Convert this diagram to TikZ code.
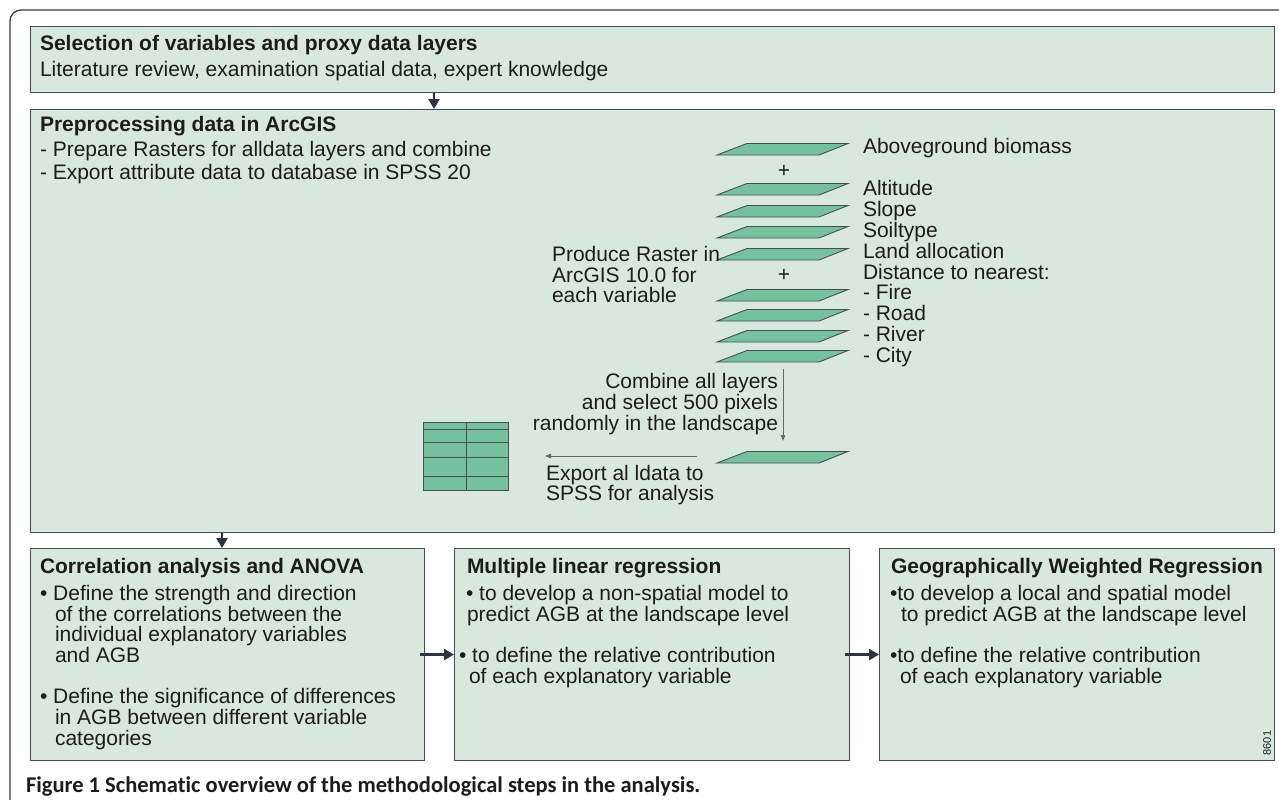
\documentclass[tikz,border=0pt]{standalone}
\usepackage{fontspec}
\setmainfont{Liberation Sans}
\newfontfamily\capfont[Ligatures=NoCommon]{Carlito}
\usetikzlibrary{arrows.meta,calc}
\definecolor{boxfill}{HTML}{D8E8DF}
\definecolor{boxline}{HTML}{474D55}
\definecolor{layerfill}{HTML}{76C2A0}
\definecolor{txt}{HTML}{1C1C1C}
\definecolor{arr}{HTML}{2D3340}
\definecolor{framecol}{HTML}{3C3C3C}
\newcommand\layerat[2]{%
  \draw[layer] (717,#2) -- (819,#2) -- (848,#2-11.5) -- (747,#2-11.5) -- cycle;
  \coordinate (#1) at (783,#2-6);}
\begin{document}
\begin{tikzpicture}[x=1pt,y=-1pt,
  stagebox/.style={draw=boxline, fill=boxfill, line width=1.1pt, inner sep=0pt, anchor=north west},
  layer/.style={draw=boxline, fill=layerfill, line width=0.9pt},
  lbl/.style={anchor=base west, inner sep=0pt, outer sep=0pt, text=txt, font=\fontsize{21}{25}\selectfont},
  lblr/.style={lbl, anchor=base east},
  ttl/.style={lbl, font=\fontsize{21}{25}\selectfont\bfseries},
  bigarrow/.style={draw=arr, line width=2.6pt, -{Triangle[length=10pt,width=11pt]}},
  thinarrow/.style={draw=boxline!85, line width=0.9pt, -{Triangle[length=6pt,width=4.5pt]}},
]
\useasboundingbox (0,0) rectangle (1279,800);
\fill[white] (0,0) rectangle (1279,800);
% outer frame
\draw[framecol, line width=1.3pt, rounded corners=11pt] (10,805) -- (10,10) -- (1285,10);

% stage boxes
\node[stagebox, minimum width=1244pt, minimum height=66pt] (sel) at (30,26) {};
\node[stagebox, minimum width=1244pt, minimum height=423pt] (prep) at (30,109) {};
\node[stagebox, minimum width=394pt, minimum height=212pt] (boxA) at (30,548) {};
\node[stagebox, minimum width=395pt, minimum height=212pt] (boxB) at (454,548) {};
\node[stagebox, minimum width=395pt, minimum height=212pt] (boxC) at (879,548) {};

% connectors between stages
\coordinate (c1) at (434,0);
\coordinate (c2) at (222,0);
\draw[bigarrow] (sel.south -| c1) -- (prep.north -| c1);
\draw[bigarrow] (prep.south -| c2) -- (boxA.north -| c2);
\draw[bigarrow] ([xshift=-5pt]boxA.east) -- (boxB.west);
\draw[bigarrow] ([xshift=-5pt]boxB.east) -- (boxC.west);

% top box text
\node[ttl] (t1) at (40,51) {Selection of variables and proxy data layers};
\node[lbl] (t2) at (40,76) {Literature review, examination spatial data, expert knowledge};

% preprocessing text
\node[ttl] (p0) at (40,131) {Preprocessing data in ArcGIS};
\node[lbl] (p1) at (40,156) {- Prepare Rasters for alldata layers and combine};
\node[lbl] (p2) at (40,179) {- Export attribute data to database in SPSS 20};

% layers
\layerat{L1}{155}
\layerat{L2}{195}
\layerat{L3}{217}
\layerat{L4}{238}
\layerat{L5}{260}
\layerat{L6}{301}
\layerat{L7}{321}
\layerat{L8}{342}
\layerat{L9}{362}
\layerat{L10}{463}
\node[lbl, anchor=base] (plus1) at (784,177.5) {+};
\node[lbl, anchor=base] (plus2) at (784,281.5) {+};

% layer labels
\node[lbl] (n1) at (863,153) {Aboveground biomass};
\node[lbl] (n2) at (863,195) {Altitude};
\node[lbl] (n3) at (863,216) {Slope};
\node[lbl] (n4) at (863,237) {Soiltype};
\node[lbl] (n5) at (863,258) {Land allocation};
\node[lbl] (n6) at (863,279) {Distance to nearest:};
\node[lbl] (n7) at (863,299) {- Fire};
\node[lbl] (n8) at (863,320) {- Road};
\node[lbl] (n9) at (863,341) {- River};
\node[lbl] (n10) at (863,362) {- City};

% produce raster text
\node[lbl] (r1) at (552,261) {Produce Raster in};
\node[lbl] (r2) at (552,282) {ArcGIS 10.0 for};
\node[lbl] (r3) at (552,302) {each variable};

% combine
\node[lblr] (m1) at (778,388) {Combine all layers};
\node[lblr] (m2) at (778,409) {and select 500 pixels};
\node[lblr] (m3) at (778,430) {randomly in the landscape};
\draw[thinarrow] ($(L9)+(0,13)$) -- ($(L10)+(0,-16)$);

% export
\coordinate (ex1) at (697,456);
\coordinate (ex2) at (545,456);
\draw[thinarrow] (ex1) -- (ex2);
\node[lbl] (e1) at (546,480) {Export al ldata to};
\node[lbl] (e2) at (546,500) {SPSS for analysis};

% table
\node[draw=boxline, fill=layerfill, line width=0.9pt, inner sep=0pt, anchor=north west,
      minimum width=85pt, minimum height=68pt] (tbl) at (423,422) {};
\draw[boxline, line width=0.9pt] (tbl.north) -- (tbl.south);
\foreach \dy in {7,20,35,54}{
  \draw[boxline, line width=0.9pt] ($(tbl.north west)+(0,\dy)$) -- ($(tbl.north east)+(0,\dy)$);
}

% box A
\node[ttl] (a0) at (40,573) {Correlation analysis and ANOVA};
\node[lbl] (a1) at (40,600) {• Define the strength and direction};
\node[lbl] (a2) at (55,621) {of the correlations between the};
\node[lbl] (a3) at (55,641) {individual explanatory variables};
\node[lbl] (a4) at (55,662) {and AGB};
\node[lbl] (a5) at (40,703) {• Define the significance of differences};
\node[lbl] (a6) at (55,724) {in AGB between different variable};
\node[lbl] (a7) at (55,745) {categories};

% box B
\node[ttl] (b0) at (467,573) {Multiple linear regression};
\node[lbl] (b1) at (466,600) {• to develop a non-spatial model to};
\node[lbl] (b2) at (467,621) {predict AGB at the landscape level};
\node[lbl] (b3) at (459,662) {• to define the relative contribution};
\node[lbl] (b4) at (469,683) {of each explanatory variable};

% box C
\node[ttl] (c0) at (891,573) {Geographically Weighted Regression};
\node[lbl] (cc1) at (890,600) {•to develop a local and spatial model};
\node[lbl] (cc2) at (901,621) {to predict AGB at the landscape level};
\node[lbl] (cc3) at (890,662) {•to define the relative contribution};
\node[lbl] (cc4) at (900,683) {of each explanatory variable};
\node[lbl, anchor=center, rotate=90, font=\fontsize{11}{13}\selectfont] (num) at (1267,743) {8601};

% caption
\node[lbl, font=\fontsize{22.5}{26}\selectfont\capfont\bfseries] (cap) at (26,792)
  {Figure 1 Schematic overview of the methodological steps in the analysis.};
\end{tikzpicture}
\end{document}
